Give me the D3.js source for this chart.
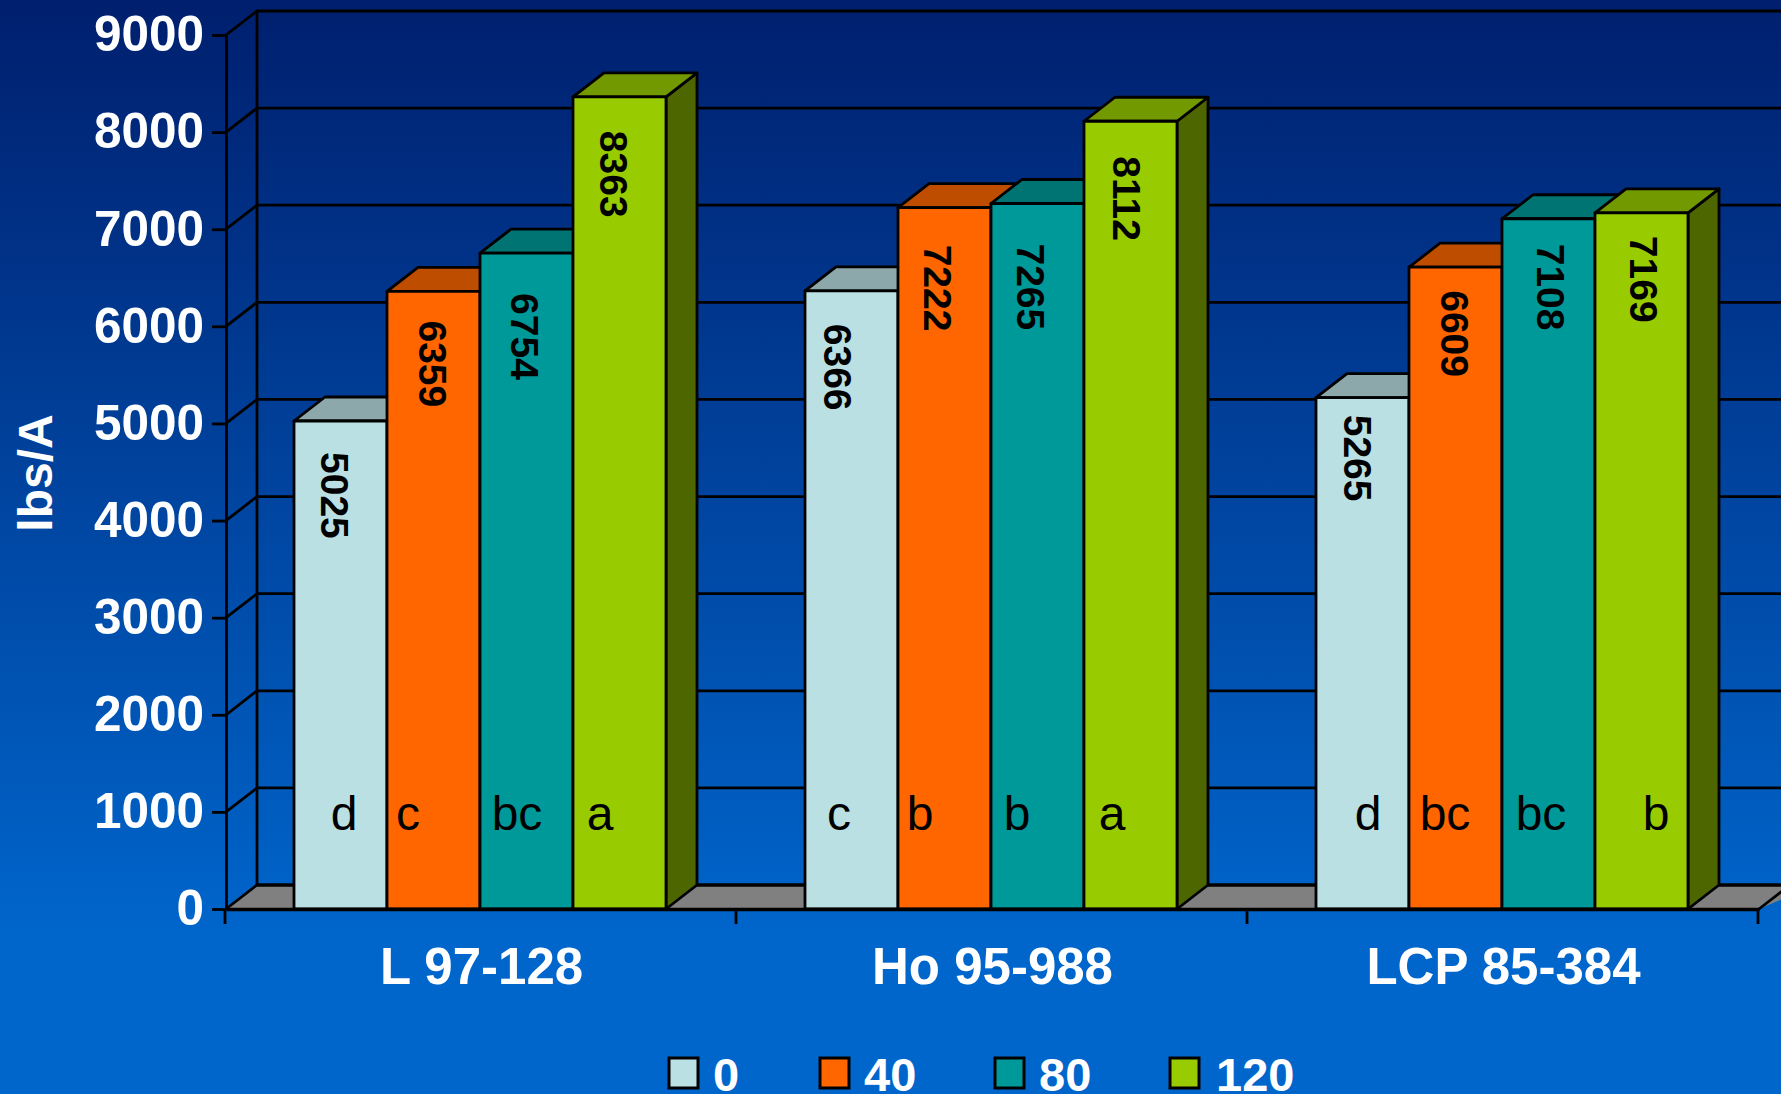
<!DOCTYPE html>
<html><head><meta charset="utf-8">
<style>html,body{margin:0;padding:0;background:#0066cc}svg{display:block}text{font-family:"Liberation Sans",Arial,sans-serif}</style>
<script src="https://cdn.jsdelivr.net/npm/d3@7"></script></head><body>
<script>
const categories = ["L 97-128", "Ho 95-988", "LCP 85-384"];
const seriesNames = ["0", "40", "80", "120"];
const s0 = [5025, 6366, 5265];
const s40 = [6359, 7222, 6609];
const s80 = [6754, 7265, 7108];
const s120 = [8363, 8112, 7169];
const letters0 = ["d", "c", "d"];
const letters40 = ["c", "b", "bc"];
const letters80 = ["bc", "b", "bc"];
const letters120 = ["a", "a", "b"];
const yTicks = [0,1000,2000,3000,4000,5000,6000,7000,8000,9000];

// hand-placed label nudges from the reference (series by category)
const valueDx = [[-6.5,-14.5,-5.5],[-1.5,-7.5,-1.5],[-2.5,-7.5,1.5],[-6.5,-4.5,1.5]];
const valueDy = [[31,33,17],[29,37,23],[40,40,25],[34,35,23]];
const letterDx = [[3.5,-12.5,5.5],[-25.5,-24.5,-10.5],[-9.5,-20.5,-7.5],[-19.5,-18.5,14.5]];

const W=1781,H=1094;
const colors=["#BBE0E3","#FF6600","#009999","#99CC00"];
const tops=["#8CA8AA","#BF4D00","#007373","#739900"];
const sides=["#5E7072","#803300","#004D4D","#4D6600"];
const series=[s0,s40,s80,s120], letters=[letters0,letters40,letters80,letters120];
const depthX=31, depthY=24;
const x0=226, baseY=909, topY=35;

const svg=d3.select("body").append("svg").attr("width",W).attr("height",H).attr("viewBox",`0 0 ${W} ${H}`);
const grad=svg.append("defs").append("linearGradient").attr("id","bg").attr("x1",0).attr("y1",0).attr("x2",0).attr("y2",1);
grad.append("stop").attr("offset",0).attr("stop-color","#001F6E");
grad.append("stop").attr("offset",0.86).attr("stop-color","#0066CC");
grad.append("stop").attr("offset",1).attr("stop-color","#0066CC");
svg.append("rect").attr("width",W).attr("height",H).attr("fill","url(#bg)");

const y=d3.scaleLinear().domain([0,9000]).range([baseY,topY]);
const xCat=d3.scaleBand().domain(categories).range([x0,x0+511*3]);
const xSer=d3.scaleBand().domain(seriesNames).range([68,440]);
const LW=2.8;

// floor
svg.append("path").attr("d",`M${x0},${baseY}L${x0+depthX},${baseY-depthY}H${W+40}L${W+40-6},${baseY-depthY}L${xCat.range()[1]},${baseY}Z`)
  .attr("fill","#808080");
svg.append("line").attr("x1",x0+depthX).attr("x2",W).attr("y1",baseY-depthY).attr("y2",baseY-depthY).attr("stroke","#000").attr("stroke-width",LW);
svg.append("line").attr("x1",xCat.range()[1]).attr("y1",baseY).attr("x2",xCat.range()[1]+depthX).attr("y2",baseY-depthY).attr("stroke","#000").attr("stroke-width",LW);

// walls
const grid=svg.append("g").attr("fill","none").attr("stroke","#000").attr("stroke-width",LW);
grid.selectAll("path").data(yTicks).join("path")
  .attr("d",d=>`M${x0},${y(d)}L${x0+depthX},${y(d)-depthY}H${W}`);
grid.append("line").attr("x1",x0+depthX).attr("x2",x0+depthX).attr("y1",y(9000)-depthY).attr("y2",baseY-depthY);

// y axis
const yAxis=svg.append("g").attr("transform",`translate(${x0},0)`)
  .call(d3.axisLeft(y).tickValues(yTicks).tickSize(14).tickSizeOuter(0).tickPadding(8).tickFormat(d3.format("d")));
yAxis.selectAll("path,line").attr("stroke","#000").attr("stroke-width",LW);
yAxis.selectAll("text").attr("fill","#fff").attr("font-size",49.5).attr("font-weight","bold").attr("font-family",'"Liberation Sans"');

// bars
const bars=svg.append("g");
categories.forEach((c,ci)=>{
  seriesNames.forEach((s,si)=>{
    const v=series[si][ci], l=xCat(c)+xSer(s), w=xSer.bandwidth(), t=y(v), g=bars.append("g").attr("stroke","#000").attr("stroke-width",LW).attr("stroke-linejoin","round");
    g.append("path").attr("fill",sides[si]).attr("d",`M${l+w},${t}l${depthX},${-depthY}V${baseY-depthY}L${l+w},${baseY}Z`);
    g.append("path").attr("fill",tops[si]).attr("d",`M${l},${t}l${depthX},${-depthY}h${w}l${-depthX},${depthY}Z`);
    g.append("rect").attr("x",l).attr("y",t).attr("width",w).attr("height",baseY-t).attr("fill",colors[si]);
  });
});

// bottom axis
const xAxis=svg.append("g").attr("transform",`translate(0,${baseY})`)
  .call(d3.axisBottom(xCat).tickSize(0).tickSizeOuter(0).tickPadding(39));
xAxis.select("path").attr("stroke","#000").attr("stroke-width",LW+0.6);
xAxis.selectAll("text").attr("fill","#fff").attr("font-size",51).attr("font-weight","bold").attr("font-family",'"Liberation Sans"').attr("dy","0.71em");
[...categories.map(c=>xCat(c)),xCat.range()[1]].forEach(v=>{
  xAxis.append("line").attr("x1",v-1).attr("x2",v-1).attr("y1",0).attr("y2",15).attr("stroke","#000").attr("stroke-width",LW);
});

// value + letter labels
categories.forEach((c,ci)=>{
  seriesNames.forEach((s,si)=>{
    const cx=xCat(c)+xSer(s)+xSer.bandwidth()/2, t=y(series[si][ci]);
    svg.append("text").attr("transform",`translate(${cx+valueDx[si][ci]},${t+valueDy[si][ci]}) rotate(90)`)
      .attr("dominant-baseline","central").attr("font-size",39).attr("font-weight","bold").attr("fill","#000").text(series[si][ci]);
    svg.append("text").attr("x",cx+letterDx[si][ci]).attr("y",830).attr("text-anchor","middle").attr("font-size",48).attr("fill","#000").text(letters[si][ci]);
  });
});

// y title
svg.append("text").attr("transform",`translate(52,473) rotate(-90)`).attr("text-anchor","middle").attr("font-size",48).attr("font-weight","bold").attr("fill","#fff").text("lbs/A");

// legend
const legX=d3.scaleOrdinal().domain(seriesNames).range([669,820,995,1170]);
const leg=svg.append("g").selectAll("g").data(seriesNames).join("g").attr("transform",d=>`translate(${legX(d)},1058)`);
leg.append("rect").attr("width",29).attr("height",30).attr("fill",(d,i)=>colors[i]).attr("stroke","#000").attr("stroke-width",3);
leg.append("text").attr("x",(d,i)=>i===3?46:44).attr("y",33).attr("font-size",47).attr("font-weight","bold").attr("fill","#fff").text(d=>d);
</script></body></html>
